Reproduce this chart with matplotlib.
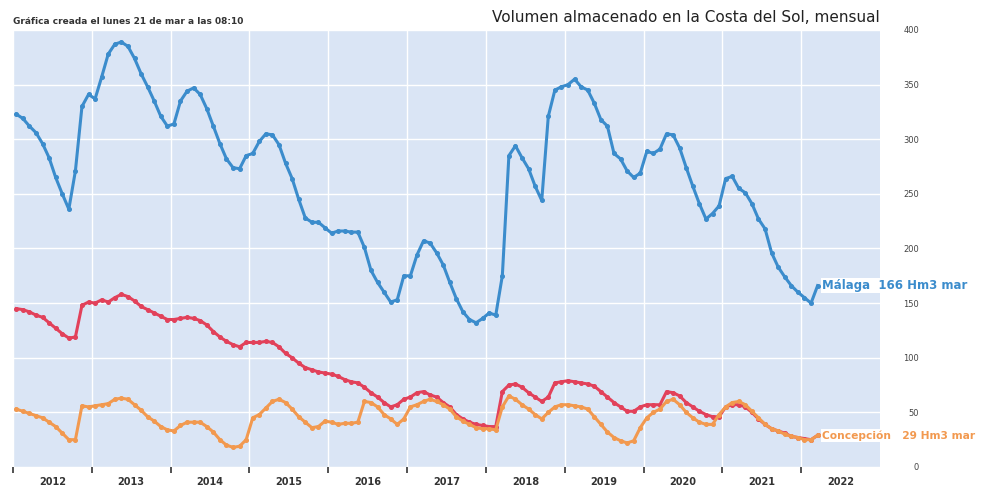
import matplotlib.pyplot as plt
from matplotlib.ticker import FixedLocator, NullFormatter

# monthly values, Jan 2012 .. Mar 2022 (Hm3)
malaga = [
    323, 319, 312, 306, 296, 283, 265, 250, 236, 271, 330, 341,
    337, 357, 378, 387, 389, 385, 374, 360, 348, 335, 321, 312,
    314, 335, 344, 347, 341, 328, 312, 296, 282, 274, 273, 285,
    287, 298, 305, 304, 295, 278, 264, 245, 228, 224, 224, 219,
    214, 216, 216, 215, 215, 201, 180, 169, 160, 151, 153, 175,
    175, 194, 207, 205, 196, 185, 169, 154, 142, 135, 132, 136,
    141, 139, 175, 285, 294, 283, 273, 257, 244, 321, 345, 348,
    350, 355, 348, 345, 333, 318, 312, 287, 282, 271, 265, 269,
    289, 287, 291, 305, 304, 292, 274, 257, 241, 227, 232, 239,
    264, 266, 255, 251, 241, 227, 218, 196, 183, 174, 166, 160,
    155, 150, 166,
]
otros = [
    145, 144, 142, 139, 137, 132, 127, 122, 118, 119, 148, 151,
    150, 153, 151, 155, 158, 156, 152, 147, 144, 141, 138, 135,
    135, 136, 137, 136, 134, 130, 124, 119, 115, 112, 110, 114,
    114, 114, 115, 114, 110, 104, 100, 95, 91, 89, 87, 86,
    85, 83, 80, 78, 77, 73, 68, 64, 59, 55, 57, 62,
    64, 68, 69, 66, 64, 59, 55, 48, 44, 41, 39, 38,
    37, 37, 69, 75, 76, 73, 68, 64, 60, 64, 77, 78,
    79, 78, 77, 76, 74, 69, 64, 59, 55, 51, 51, 55,
    57, 57, 57, 69, 68, 65, 59, 55, 51, 48, 46, 46,
    55, 57, 57, 55, 50, 44, 39, 35, 33, 31, 28, 27,
    26, 25, 29,
]
concepcion = [
    53, 51, 49, 47, 45, 41, 37, 31, 25, 25, 56, 55,
    56, 57, 58, 62, 63, 62, 57, 52, 46, 42, 37, 34,
    33, 38, 41, 41, 41, 37, 32, 25, 20, 18, 19, 25,
    45, 48, 54, 60, 62, 59, 53, 46, 41, 36, 37, 42,
    41, 39, 40, 40, 41, 60, 59, 55, 48, 44, 39, 44,
    55, 57, 60, 62, 60, 57, 53, 46, 42, 39, 36, 35,
    35, 34, 55, 65, 62, 57, 53, 48, 44, 50, 55, 57,
    57, 56, 55, 53, 46, 39, 32, 27, 24, 22, 24, 36,
    45, 50, 53, 60, 62, 57, 50, 45, 41, 39, 39, 48,
    55, 59, 60, 57, 51, 45, 39, 35, 33, 30, 28, 27,
    25, 25, 29,
]
years = list(range(2012, 2023))
yticks = [0, 50, 100, 150, 200, 250, 300, 350, 400]

# month centres as decimal years
x = [2012 + (i + 0.5) / 12 for i in range(len(malaga))]

fig = plt.figure(figsize=(9.87, 4.87), dpi=100)
ax = fig.add_axes([13 / 987, 1 - 467 / 487, 867 / 987, 437 / 487])
ax.set_facecolor("#dae5f5")
for s in ax.spines.values():
    s.set_visible(False)

kw = dict(linewidth=2.2, marker="o", markersize=2.6)
ax.plot(x, malaga, color="#3b8ccc", **kw)
ax.plot(x, otros, color="#e2415a", **kw)
ax.plot(x, concepcion, color="#f2994f", **kw)

ax.set_xlim(2012, 2023)
ax.set_ylim(0, 400)

ax.xaxis.set_major_locator(FixedLocator(years))
ax.xaxis.set_major_formatter(NullFormatter())
ax.xaxis.set_minor_locator(FixedLocator([y + 0.5 for y in years]))
ax.set_xticklabels([str(y) for y in years], minor=True)
ax.tick_params(axis="x", which="major", length=4, width=1.2, color="#333333")
ax.tick_params(axis="x", which="minor", length=0, pad=7, labelsize=7,
               labelcolor="#333333")
for lab in ax.get_xticklabels(minor=True):
    lab.set_fontweight("bold")

ax.yaxis.tick_right()
ax.set_yticks(yticks)
ax.tick_params(axis="y", length=0, pad=28, labelsize=6, labelcolor="#444444")
for lab in ax.get_yticklabels():
    lab.set_horizontalalignment("right")

ax.grid(True, color="white", linewidth=1.0)
ax.set_axisbelow(True)

fig.text(13 / 987, 1 - 22 / 487, "Gráfica creada el lunes 21 de mar a las 08:10",
         fontsize=6.5, color="#333333", va="center", fontweight="bold")
fig.text(880 / 987, 1 - 18 / 487, "Volumen almacenado en la Costa del Sol, mensual",
         fontsize=11, color="#222222", ha="right", va="center")

ax.annotate("Málaga  166 Hm3 mar", xy=(x[-1], malaga[-1]), xytext=(3, 0),
            textcoords="offset points", fontsize=8.5, fontweight="bold",
            color="#3b8ccc", va="center", annotation_clip=False,
            bbox=dict(boxstyle="square,pad=0.1", fc="white", ec="none"))
ax.annotate("Concepción   29 Hm3 mar", xy=(x[-1], concepcion[-1]), xytext=(3, 0),
            textcoords="offset points", fontsize=7.7, fontweight="bold",
            color="#f2994f", va="center", annotation_clip=False,
            bbox=dict(boxstyle="square,pad=0.1", fc="white", ec="none"))

plt.savefig("out.png", dpi=100)
